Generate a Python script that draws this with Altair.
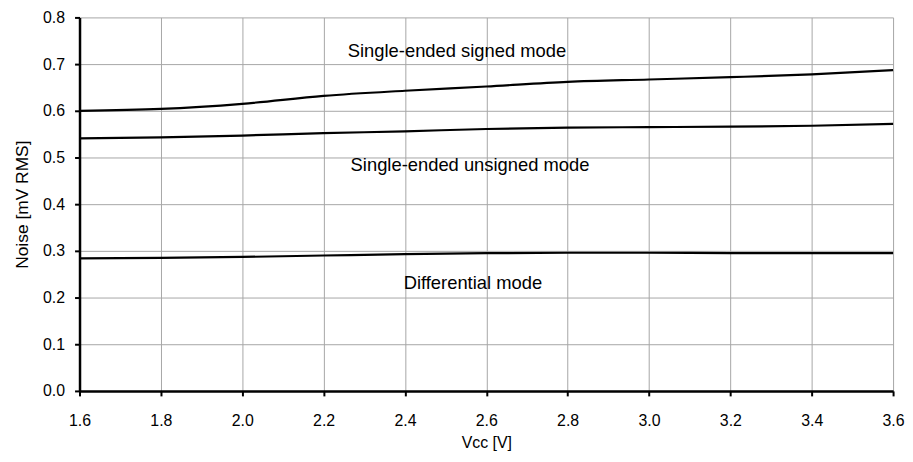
import altair as alt
import pandas as pd

vcc = [1.6, 1.8, 2.0, 2.2, 2.4, 2.6, 2.8, 3.0, 3.2, 3.4, 3.6]
signed = [0.600, 0.604, 0.615, 0.632, 0.643, 0.652, 0.662, 0.667, 0.672, 0.678, 0.687]
unsigned = [0.541, 0.543, 0.547, 0.552, 0.556, 0.561, 0.564, 0.565, 0.566, 0.568, 0.572]
differential = [0.284, 0.285, 0.287, 0.290, 0.293, 0.295, 0.296, 0.296, 0.295, 0.295, 0.295]

label_text = ["Single-ended signed mode", "Single-ended unsigned mode", "Differential mode"]
label_x = [2.528, 2.56, 2.567]
label_y = [0.728, 0.483, 0.232]

rows = []
for name, vals in [("signed", signed), ("unsigned", unsigned), ("differential", differential)]:
    for v, n in zip(vcc, vals):
        rows.append({"Vcc": v, "Noise": n, "series": name})
df = pd.DataFrame(rows)
labels = pd.DataFrame({"text": label_text, "x": label_x, "y": label_y})

FONT = "Liberation Sans"

xscale = alt.Scale(domain=[1.6, 3.6], nice=False, zero=False)
yscale = alt.Scale(domain=[0, 0.8], nice=False)

lines = alt.Chart(df).mark_line(color="black", strokeWidth=2.2, interpolate="monotone").encode(
    x=alt.X("Vcc:Q", scale=xscale,
            axis=alt.Axis(title="Vcc [V]", values=vcc, format=".1f", labelFlush=False)),
    y=alt.Y("Noise:Q", scale=yscale,
            axis=alt.Axis(title="Noise [mV RMS]", values=[0, 0.1, 0.2, 0.3, 0.4, 0.5, 0.6, 0.7, 0.8], format=".1f")),
    detail="series:N",
)

text = alt.Chart(labels).mark_text(font=FONT, fontSize=18.5, color="black", align="center", baseline="middle").encode(
    x=alt.X("x:Q", scale=xscale),
    y=alt.Y("y:Q", scale=yscale),
    text="text:N",
)

chart = (lines + text).properties(
    width=819, height=376,
    autosize=alt.AutoSizeParams(type="none"),
    padding={"left": 72, "top": 8, "right": 12, "bottom": 60},
).configure_view(strokeWidth=0).configure_axis(
    domainColor="black", domainWidth=2.5,
    tickColor="black", tickWidth=2, tickSize=5,
    gridColor="#a6a6a6", gridWidth=1,
    labelFont=FONT, labelFontSize=16, labelColor="black",
    titleFont=FONT, titleColor="black", titleFontWeight="normal",
).configure_axisX(labelPadding=17, titlePadding=6, titleFontSize=16).configure_axisY(
    labelPadding=10, titlePadding=11, titleFontSize=17.5)

chart.save("out.html", embed_options={"renderer": "svg", "actions": False})
